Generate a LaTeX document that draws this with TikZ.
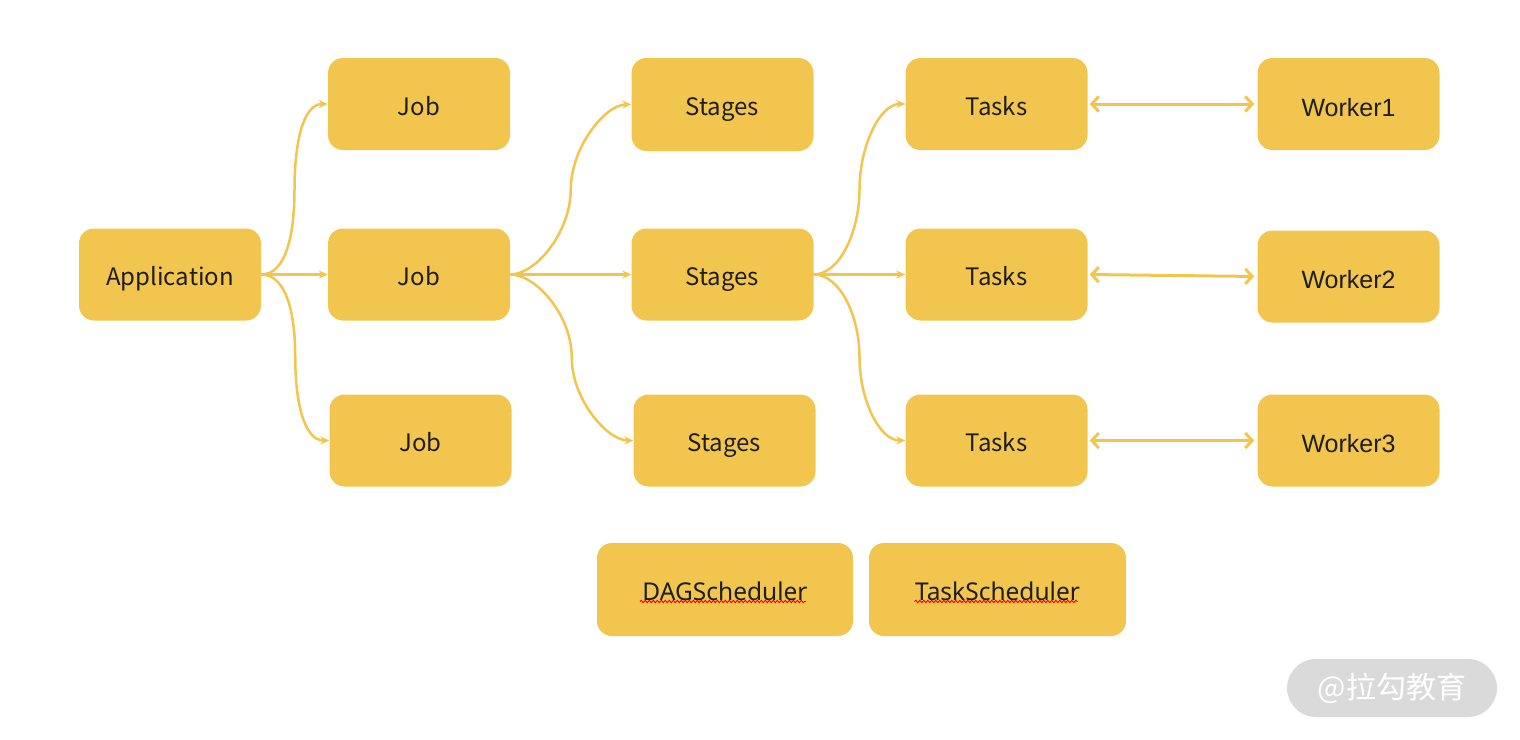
\documentclass[tikz,border=0pt]{standalone}
\usepackage{fontspec}
\setmainfont{Noto Sans CJK SC}
\newfontfamily\arialf{Liberation Sans}
\newfontfamily\notof{Noto Sans}
\usetikzlibrary{arrows.meta,decorations.pathmorphing,calc}
\definecolor{boxy}{HTML}{F2C54F}
\definecolor{liney}{HTML}{F2C54F}
\definecolor{txt}{HTML}{1E1E1E}
\definecolor{wmgray}{HTML}{DADADA}
\begin{document}
\begin{tikzpicture}[x=1pt,y=-1pt,
 box/.style={fill=boxy, rounded corners=15pt, minimum width=182pt, minimum height=92pt, inner sep=0pt, text=txt, text height=22pt, text depth=0pt, font=\fontsize{24}{28}\selectfont},
 wbox/.style={box, text height=24pt, font=\arialf\fontsize{25}{28}\selectfont},
 sbox/.style={box, minimum height=93pt, text height=21pt, font=\notof\fontsize{24.5}{28}\selectfont},
 flow/.style={draw=liney, line width=2.5pt, -{Stealth[length=9pt,width=8pt]}},
 upA/.style={out=0, in=-90, out distance=26pt, in distance=42pt},
 upB/.style={out=90, in=180, out distance=42pt, in distance=26pt},
 dnA/.style={out=0, in=90, out distance=26pt, in distance=42pt},
 dnB/.style={out=-90, in=180, out distance=42pt, in distance=26pt},
 link/.style={draw=liney, line width=3pt, {Straight Barb[length=7pt,width=15pt]}-{Straight Barb[length=7pt,width=15pt]}, shorten <=2pt, shorten >=3pt},
 squig/.style={draw=red, line width=0.9pt, decorate, decoration={snake, segment length=4pt, amplitude=1.2pt}}
]
\useasboundingbox (0,0) rectangle (1520,739);

\node[box] (app) at (170,274.5) {Application};
\node[box] (job1) at (419,104) {Job};
\node[box] (job2) at (419,274.5) {Job};
\node[box] (job3) at (420.5,440.5) {Job};
\node[box, minimum height=93pt] (st1) at (722.5,104.5) {Stages};
\node[box] (st2) at (722.5,274.5) {Stages};
\node[box] (st3) at (724.5,440.5) {Stages};
\node[box] (ts1) at (996.5,104) {Tasks};
\node[box] (ts2) at (996.5,274.5) {Tasks};
\node[box] (ts3) at (996.5,440.5) {Tasks};
\node[wbox] (w1) at (1348.5,104) {Worker1};
\node[wbox] (w2) at (1348.5,276.5) {Worker2};
\node[wbox] (w3) at (1348.5,440.5) {Worker3};
\node[sbox, minimum width=256pt] (dag) at (725,589.5) {DAGScheduler};
\node[sbox, minimum width=257pt] (tsch) at (997.5,589.5) {TaskScheduler};

\draw[squig] ([xshift=-85pt,yshift=-12pt]dag.center) -- ([xshift=81pt,yshift=-12pt]dag.center);
\draw[squig] ([xshift=-83pt,yshift=-12pt]tsch.center) -- ([xshift=80pt,yshift=-12pt]tsch.center);

\draw[flow] (app.east) to[upA] ($(app.east)!0.5!(job1.west)$) to[upB] (job1.west);
\draw[flow] (app.east) -- (job2.west);
\draw[flow] (app.east) to[dnA] ($(app.east)!0.5!(job3.west)$) to[dnB] (job3.west);

\draw[flow] (job2.east) to[upA] ($(job2.east)!0.5!(st1.west)$) to[upB] (st1.west);
\draw[flow] (job2.east) -- (st2.west);
\draw[flow] (job2.east) to[dnA] ($(job2.east)!0.5!(st3.west)$) to[dnB] (st3.west);

\draw[flow] (st2.east) to[upA] ($(st2.east)!0.5!(ts1.west)$) to[upB] (ts1.west);
\draw[flow] (st2.east) -- (ts2.west);
\draw[flow] (st2.east) to[dnA] ($(st2.east)!0.5!(ts3.west)$) to[dnB] (ts3.west);

\draw[link] (ts1.east) -- (w1.west);
\draw[link] (ts2.east) -- (w2.west);
\draw[link] (ts3.east) -- (w3.west);

\node[fill=wmgray, rounded corners=29pt, minimum width=210pt, minimum height=58pt, inner sep=0pt, text=white, font=\fontsize{30}{34}\selectfont] (wm) at (1392,688) {@拉勾教育};
\end{tikzpicture}
\end{document}
